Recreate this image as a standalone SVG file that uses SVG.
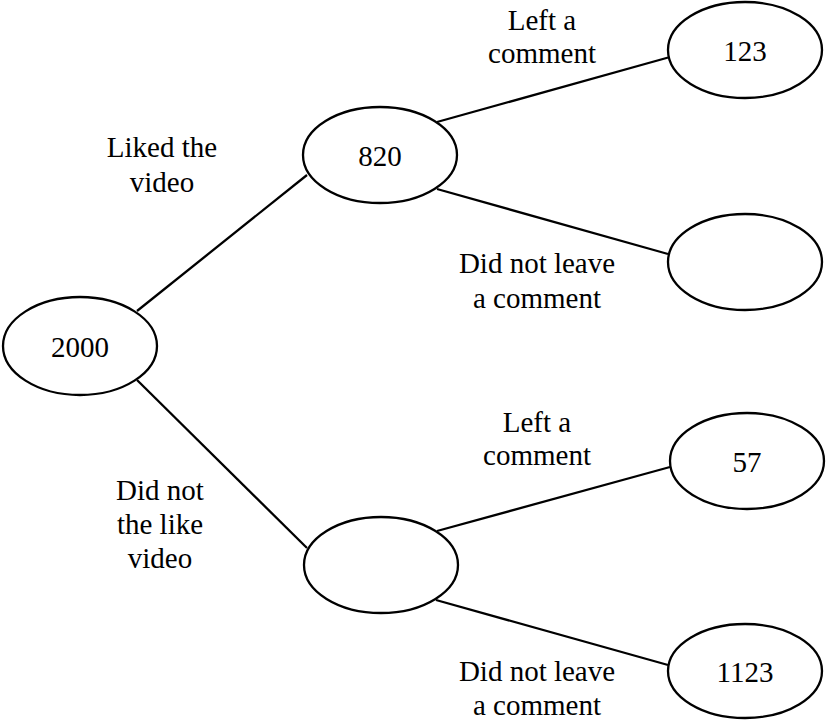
<svg xmlns="http://www.w3.org/2000/svg" width="826" height="722" viewBox="0 0 826 722">
<style>
.node{fill:#fff;stroke:#000;stroke-width:2.3}
.edge{stroke:#000;stroke-width:2.3;fill:none}
text{font-family:"Liberation Serif","Times New Roman",serif;font-size:29px;fill:#000;text-anchor:middle}
</style>
<rect width="826" height="722" fill="#fff"/>
<g id="connectors">
<line class="edge" x1="137" y1="311" x2="307" y2="175"/>
<line class="edge" x1="137" y1="380" x2="307" y2="548"/>
<line class="edge" x1="437" y1="122" x2="670" y2="57"/>
<line class="edge" x1="437" y1="189" x2="668" y2="254"/>
<line class="edge" x1="437" y1="531" x2="670" y2="467"/>
<line class="edge" x1="436" y1="600" x2="668" y2="665"/>
</g>
<g id="labels">
<text x="162" y="157">Liked the</text>
<text x="162" y="192">video</text>
<text x="160" y="500">Did not</text>
<text x="160" y="534">the like</text>
<text x="160" y="568">video</text>
<text x="542" y="30">Left a</text>
<text x="542" y="63">comment</text>
<text x="537" y="273">Did not leave</text>
<text x="537" y="308">a comment</text>
<text x="537" y="432">Left a</text>
<text x="537" y="465">comment</text>
<text x="537" y="681">Did not leave</text>
<text x="537" y="715">a comment</text>
</g>
<g id="n2000"><ellipse class="node" cx="80" cy="346" rx="77" ry="49"/><text x="80" y="357">2000</text></g>
<g id="n820"><ellipse class="node" cx="380" cy="155" rx="77" ry="48"/><text x="380" y="166">820</text></g>
<g id="n123"><ellipse class="node" cx="745" cy="50" rx="77" ry="48"/><text x="745" y="61">123</text></g>
<g id="nLikedNoComment"><ellipse class="node" cx="745" cy="262" rx="77" ry="48"/></g>
<g id="nNotLiked"><ellipse class="node" cx="381" cy="565" rx="77" ry="48"/></g>
<g id="n57"><ellipse class="node" cx="747" cy="461" rx="77" ry="48"/><text x="747" y="472">57</text></g>
<g id="n1123"><ellipse class="node" cx="745" cy="671" rx="77" ry="47"/><text x="745" y="682">1123</text></g>
</svg>
